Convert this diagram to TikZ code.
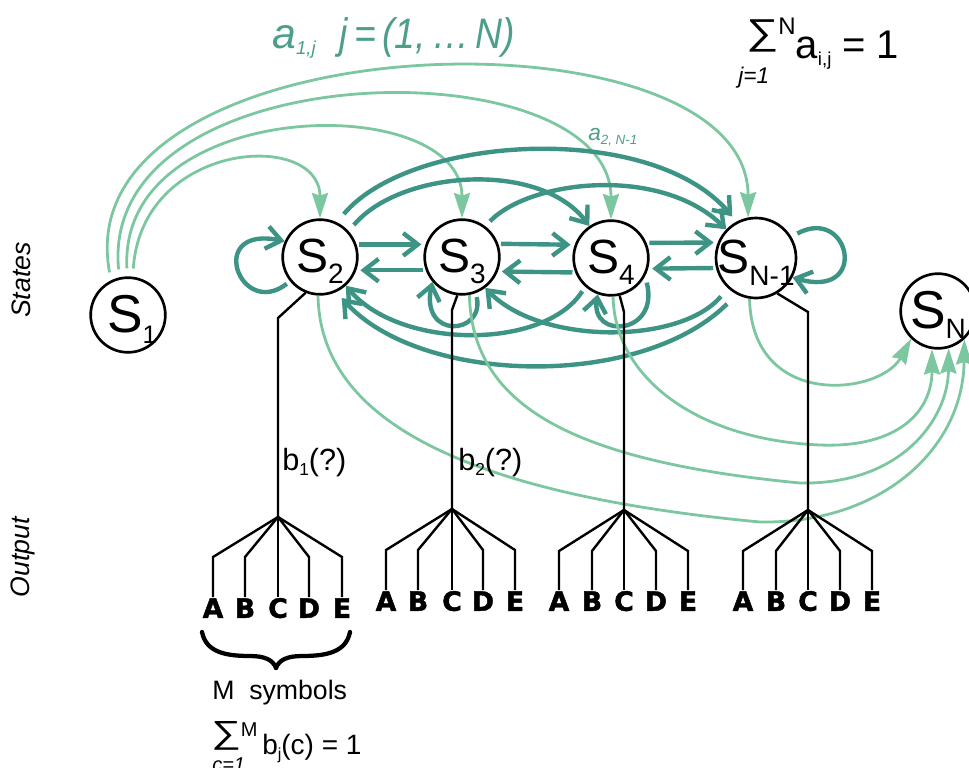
\documentclass[tikz,border=0pt]{standalone}
\usepackage{fontspec}
\setmainfont{Liberation Sans}
\newfontfamily\letterfont[BoldFeatures={FakeBold=1.6}]{DejaVu Sans}
\usetikzlibrary{arrows.meta}
\definecolor{darkteal}{RGB}{61,148,132}
\definecolor{lightgreen}{RGB}{125,199,160}
\definecolor{textteal}{RGB}{78,158,140}
\newcommand\fs[1]{\fontsize{#1}{#1}\selectfont}
\newcommand\lowsub[3]{\raisebox{-#1}{\fs{#2}#3}}
\begin{document}
\begin{tikzpicture}[x=0.75pt,y=-0.75pt,
  state/.style={circle,draw=black,line width=2pt,minimum size=56pt,inner sep=0pt},
  slabel/.style={anchor=base,inner sep=0pt},
  dark/.style={draw=darkteal,line width=3.3pt,-{Straight Barb[length=11pt,width=17pt]}},
  light/.style={draw=lightgreen,line width=2.1pt,-{Stealth[length=19pt,width=12pt,inset=2pt]}},
  tree/.style={draw=black,line width=1.8pt,line join=miter},
  letter/.style={font=\letterfont\bfseries\fs{20},inner sep=1pt,anchor=north,text height=14.4pt,text depth=0pt},
  txt/.style={anchor=base west,inner sep=0pt},
]
\useasboundingbox (0,0) rectangle (969,767);

% states
\node[state] (s1) at (128,315) {};
\node[state] (s2) at (320,257) {};
\node[state] (s3) at (462,257) {};
\node[state] (s4) at (611,258) {};
\node[state,minimum size=60pt] (sn1) at (756,258) {};
\node[state] (sn) at (938,311) {};

\node[slabel,yshift=-12.75pt,xshift=3pt] at (s1) {\fs{40}S\lowsub{8.25pt}{19}{1}};
\node[slabel,yshift=-11.25pt] at (s2) {\fs{36}S\lowsub{8.25pt}{21}{2}};
\node[slabel,yshift=-11.25pt] at (s3) {\fs{36}S\lowsub{8.25pt}{21}{3}};
\node[slabel,yshift=-11.25pt] at (s4) {\fs{36}S\lowsub{8.25pt}{21}{4}};
\node[slabel,yshift=-11.25pt] at (sn1) {\fs{36}S\lowsub{9pt}{21}{N-1}};
\node[slabel,yshift=-12.75pt] at (sn) {\fs{40}S\lowsub{7.5pt}{21}{N}};

% light arrows from S1
\draw[light,shorten <=6pt] (s1.83) .. controls (142,140) and (320,130) .. (s2.north);
\draw[light,shorten <=6pt] (s1.91) .. controls (118,95) and (462,90) .. (s3.north);
\draw[light,shorten <=6pt] (s1.103) .. controls (98,50) and (611,45) .. (s4.north);
\draw[light,shorten <=6pt] (s1.116) .. controls (62,20) and (748,0) .. (sn1.101);

% straight dark arrows
\draw[dark,shorten <=2pt,shorten >=3pt] (s2.19) -- (s3.161);
\draw[dark,shorten <=2pt,shorten >=3pt] (s3.200) -- (s2.340);
\draw[dark,shorten <=2pt,shorten >=3pt] (s3.20) -- (s4.160);
\draw[dark,shorten <=2pt,shorten >=3pt] (s4.202) -- (s3.338);
\draw[dark,shorten <=2pt,shorten >=3pt] (s4.23) -- (sn1.158);
\draw[dark,shorten <=2pt,shorten >=3pt] (sn1.194) -- (s4.344);

% dark arcs above
\draw[dark,shorten <=8pt,shorten >=5pt] (s2.64) .. controls (410,135) and (650,120) .. (sn1.118);
\draw[dark,shorten <=6pt] (s2.42) .. controls (400,170) and (540,160) .. (s4.124);
\draw[dark,shorten <=5pt] (s3.53) .. controls (530,180) and (660,165) .. (sn1.136);
% dark arcs below
\draw[dark,shorten <=4pt] (s4.228) .. controls (545,350) and (400,350) .. (s2.312);
\draw[dark,shorten <=8pt] (sn1.227) .. controls (680,345) and (540,345) .. (s3.307);
\draw[dark,shorten <=10pt,shorten >=6pt] (sn1.242) .. controls (640,390) and (420,385) .. (s2.295);

% self loops
\draw[dark,shorten <=3pt] (s2.219) .. controls (240,320) and (205,225) .. (s2.156);
\draw[dark,shorten <=3pt] (s3.291) .. controls (485,335) and (420,340) .. (s3.220);
\draw[dark,shorten <=5pt] (s4.332) .. controls (660,335) and (590,340) .. (s4.250);
\draw[dark,shorten <=5pt] (sn1.31) .. controls (850,205) and (870,300) .. (sn1.332);

% light arrows to SN
\draw[light] (s2.267) .. controls (320,400) and (420,490) .. (760,522) .. controls (880,524) and (963,450) .. (sn.313);
\draw[light] (s3.281) .. controls (472,400) and (560,460) .. (800,483) .. controls (900,485) and (948,420) .. (sn.286);
\draw[light] (s4.273) .. controls (615,380) and (700,440) .. (820,445) .. controls (900,448) and (932,410) .. (sn.261);
\draw[light] (sn1.261) .. controls (752,410) and (880,395) .. (sn.226);

% output trees
\coordinate (f1) at (278,517);
\coordinate (f2) at (452,509);
\coordinate (f3) at (624,510);
\coordinate (f4) at (808,510);
\coordinate (e1) at (0,557);
\coordinate (e2) at (0,550);
\coordinate (e3) at (0,551);

\foreach \n/\x in {a/213,b/245,c/278,d/309,e/342}
  \node[letter] (g1\n) at (\x,597) {\MakeUppercase{\n}};
\foreach \n/\x in {a/386,b/418,c/452,d/483,e/515}
  \node[letter] (g2\n) at (\x,590) {\MakeUppercase{\n}};
\foreach \n/\x in {a/559,b/592,c/624,d/656,e/688}
  \node[letter] (g3\n) at (\x,590) {\MakeUppercase{\n}};
\foreach \n/\x in {a/743,b/776,c/808,d/840,e/872}
  \node[letter] (g4\n) at (\x,590) {\MakeUppercase{\n}};

\draw[tree] (s2.248) -- (278,318) -- (f1);
\draw[tree] (s3.263) -- (452,310) -- (f2);
\draw[tree] (s4.283) -- (624,312) -- (f3);
\draw[tree] (sn1.301) -- (808,312) -- (f4);

\foreach \g/\e in {1/e1,2/e2,3/e3,4/e3}{
  \draw[tree] (f\g) -- (g\g c.north);
  \foreach \n in {a,b,d,e}
    \draw[tree] (f\g) -- (g\g\n.north |- \e) -- (g\g\n.north);
}

% brace
\draw[line width=3.2pt,line cap=round] (202,632) .. controls (206,652) and (225,656) .. (250,656) .. controls (265,656) and (273,660) .. (276,668);
\draw[line width=3.2pt,line cap=round] (350,632) .. controls (346,652) and (327,656) .. (302,656) .. controls (287,656) and (279,660) .. (276,668);

% texts
\node[txt] (title) at (272,49) {\color{textteal}\itshape\fs{32}a\lowsub{4pt}{14}{1,j}\hspace{18pt}\scalebox{0.875}[1]{j\,=\,(1,\,…\,N)}};
\node[txt] (a2n) at (588,140) {\color{textteal}\itshape\fs{17}a\lowsub{3pt}{10}{2, N-1}};
\node[txt] (sumtop) at (746,59) {\fs{30}\raisebox{11pt}{\scalebox{1.25}[1]{\fs{27}∑}}\raisebox{18pt}{\fs{18}N}a\lowsub{5pt}{14}{i,j} = 1};
\node[txt] (sumtopidx) at (738,84) {\itshape\fs{17}j=1};
\node[txt] (b1) at (282,470) {\fs{23}b\lowsub{3.75pt}{13}{1}(?)};
\node[txt] (b2) at (458,470) {\fs{23}b\lowsub{3.75pt}{13}{2}(?)};
\node[txt] (msym) at (212,699) {\fs{20}M\ \ symbols};
\node[txt] (sumbot) at (211,754) {\fs{21}\raisebox{8pt}{\scalebox{1.3}[1]{\fs{24}∑}}\raisebox{13.5pt}{\fs{15}M}\,b\lowsub{4pt}{12}{j}(c) = 1};
\node[txt] (sumbotidx) at (212,771) {\itshape\fs{15}c=1};
\node[rotate=90,inner sep=0pt] (states) at (21,280) {\itshape\fs{20}States};
\node[rotate=90,inner sep=0pt] (output) at (23,557) {\itshape\fs{20}Output};
\end{tikzpicture}
\end{document}
